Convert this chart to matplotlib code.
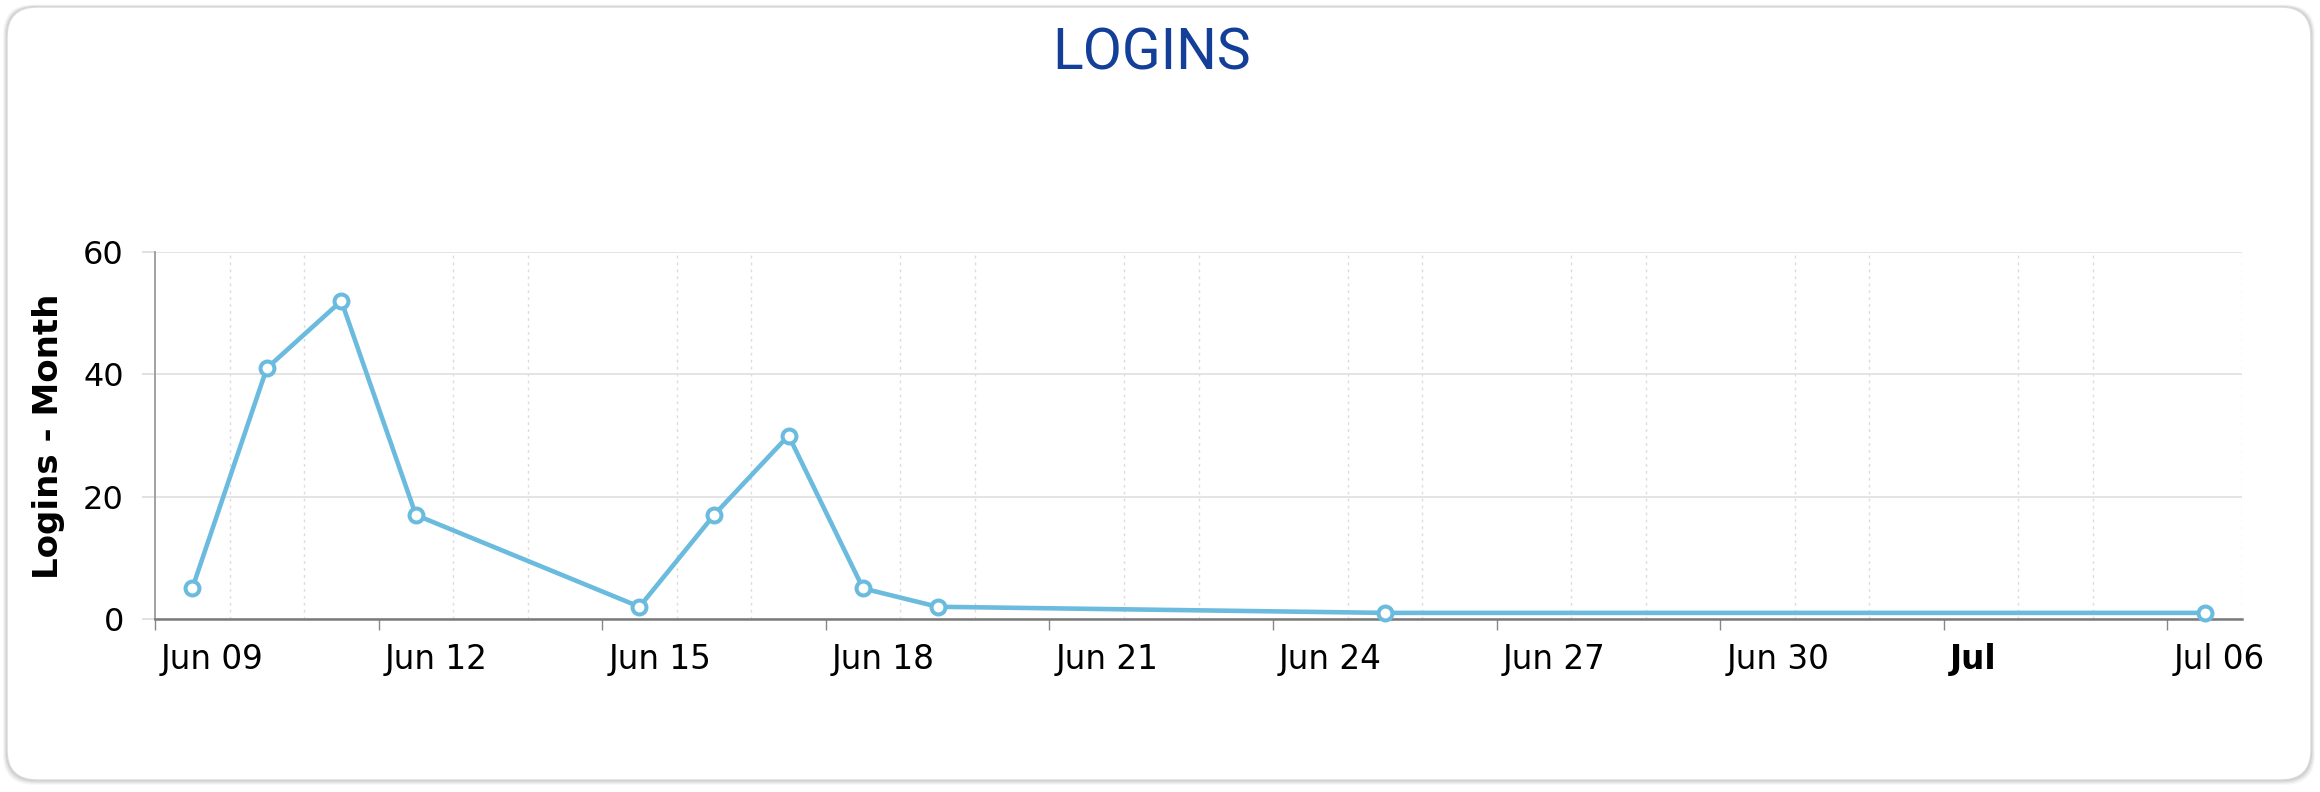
import datetime as dt
import matplotlib
matplotlib.use("Agg")
import matplotlib.pyplot as plt
import matplotlib.dates as mdates
import matplotlib.transforms as mtransforms
from matplotlib.patches import FancyBboxPatch

# data
days = ["2024-06-09", "2024-06-10", "2024-06-11", "2024-06-12", "2024-06-15",
        "2024-06-16", "2024-06-17", "2024-06-18", "2024-06-19", "2024-06-25",
        "2024-07-06"]
logins = [5, 41, 52, 17, 2, 17, 30, 5, 2, 1, 1]

tick_days = ["2024-06-09", "2024-06-12", "2024-06-15", "2024-06-18", "2024-06-21",
             "2024-06-24", "2024-06-27", "2024-06-30", "2024-07-03", "2024-07-06"]
tick_labels = ["Jun 09", "Jun 12", "Jun 15", "Jun 18", "Jun 21",
               "Jun 24", "Jun 27", "Jun 30", "Jul", "Jul 06"]
y_ticks = [0, 20, 40, 60]

x_start, x_end = "2024-06-09", "2024-07-07"

line_color = "#6bbbdf"
title_color = "#133f98"

to_dt = lambda s: dt.datetime.strptime(s, "%Y-%m-%d")
xs = [to_dt(d) + dt.timedelta(hours=12) for d in days]

W, H = 2320, 792
fig = plt.figure(figsize=(W / 100, H / 100), dpi=100)
fig.patch.set_facecolor("white")

# background card, drawn in pixel units
bg = fig.add_axes([0, 0, 1, 1])
bg.set_xlim(0, W)
bg.set_ylim(H, 0)
bg.axis("off")
bg.set_zorder(0)
for i, a in enumerate([0.035, 0.045, 0.06, 0.08]):
    g = 4 - i
    bg.add_patch(FancyBboxPatch((7 - g, 7 - g * 0.6), 2304 + 2 * g, 773 + g * 1.8,
                                boxstyle="round,pad=0,rounding_size=30",
                                facecolor="black", edgecolor="none", alpha=a))
bg.add_patch(FancyBboxPatch((7, 7), 2304, 773, boxstyle="round,pad=0,rounding_size=30",
                            facecolor="white", edgecolor="#d9d9d9", lw=1))

ax = fig.add_axes([155 / W, 1 - 619 / H, (2242 - 155) / W, (619 - 252) / H])
ax.set_facecolor("none")
ax.set_zorder(2)

ax.plot(xs, logins, color=line_color, lw=3.3, marker="o", markersize=10,
        markerfacecolor="white", markeredgecolor=line_color, markeredgewidth=2.9,
        zorder=5, clip_on=False)

ax.set_xlim(to_dt(x_start), to_dt(x_end))
ax.set_ylim(0, 60)

ax.set_xticks([to_dt(d) for d in tick_days])
ax.set_xticklabels(tick_labels)
ax.xaxis.set_minor_locator(mdates.DayLocator())
ax.set_yticks(y_ticks)

ax.grid(axis="x", which="minor", color="#dcdcdc", lw=1, linestyle=(0, (2, 3)))
ax.grid(axis="y", which="major", color="#e2e2e2", lw=1.3)
ax.set_axisbelow(True)

ax.tick_params(axis="x", which="major", length=8, width=1, color="#888888",
               labelsize=23.5, pad=9)
ax.tick_params(axis="x", which="minor", length=0)
ax.tick_params(axis="y", length=9.5, width=1.3, color="#dedede", labelsize=23, pad=13)

for spine in ["top", "right"]:
    ax.spines[spine].set_visible(False)
ax.spines["left"].set_color("#9a9a9a")
ax.spines["left"].set_linewidth(1.3)
ax.spines["bottom"].set_color("#7a7a7a")
ax.spines["bottom"].set_linewidth(1.8)

shift = mtransforms.ScaledTranslation(6 / 100, 0, fig.dpi_scale_trans)
for lab in ax.get_xticklabels():
    lab.set_horizontalalignment("left")
    lab.set_transform(lab.get_transform() + shift)
    if lab.get_text() == "Jul":
        lab.set_fontweight("bold")

ax.set_ylabel("Logins - Month", fontsize=24.5, fontweight="bold")
ax.yaxis.set_label_coords((65 - 155) / (2242 - 155), (619 - 436) / (619 - 252))

fig.text(1152 / W, 1 - 70 / H, "LOGINS", fontsize=41, color=title_color,
         family="Roboto", ha="center", va="baseline")

fig.savefig("out.png", dpi=100, facecolor=fig.get_facecolor())
